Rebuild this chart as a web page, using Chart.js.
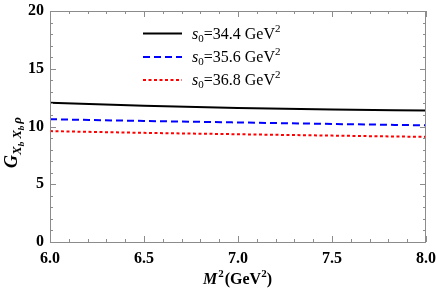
<!DOCTYPE html>
<html>
<head>
<meta charset="utf-8">
<script src="https://cdn.jsdelivr.net/npm/chart.js@4"></script>
<style>
  html, body { margin: 0; padding: 0; background: #fff; }
  #wrap { width: 436px; height: 292px; }
</style>
</head>
<body>
<div id="wrap"><canvas id="chart" width="436" height="292"></canvas></div>
<script>
// M^2 values (GeV^2)
const m2Values = [6.0, 6.5, 7.0, 7.5, 8.0];
// G values for each threshold s0
const gS344 = [12.05, 11.80, 11.60, 11.47, 11.38];
const gS356 = [10.63, 10.48, 10.35, 10.22, 10.10];
const gS368 = [9.60, 9.45, 9.33, 9.21, 9.10];
const seriesLabels = ['34.4', '35.6', '36.8'];
const xTicks = [6.0, 6.5, 7.0, 7.5, 8.0];
const yTicks = [0, 5, 10, 15, 20];

const SERIF = '"Liberation Serif", "Times New Roman", serif';
const FRAME = '#8c8c8c';

function toPoints(ys) {
  return m2Values.map((x, i) => ({ x: x, y: ys[i] }));
}

// frame, inward ticks, titles and legend
const framePlugin = {
  id: 'framePlugin',
  afterDraw(chart) {
    const ctx = chart.ctx;
    const a = chart.chartArea;
    const xs = chart.scales.x, ys = chart.scales.y;
    ctx.save();
    ctx.strokeStyle = FRAME;
    ctx.lineWidth = 1;
    ctx.strokeRect(a.left + 0.5, a.top + 0.5, a.right - a.left - 1, a.bottom - a.top);

    // x ticks (minor every 0.1)
    for (let i = 0; i <= 20; i++) {
      const v = 6 + i * 0.1;
      const px = Math.round(xs.getPixelForValue(v)) + 0.5;
      const len = (i % 5 === 0) ? 6 : 3;
      ctx.beginPath();
      ctx.moveTo(px, a.bottom); ctx.lineTo(px, a.bottom - len);
      ctx.moveTo(px, a.top); ctx.lineTo(px, a.top + len);
      ctx.stroke();
    }
    // y ticks (minor every 1)
    for (let v = 0; v <= 20; v++) {
      const py = Math.round(ys.getPixelForValue(v)) + 0.5;
      const len = (v % 5 === 0) ? 6 : 3;
      ctx.beginPath();
      ctx.moveTo(a.left, py); ctx.lineTo(a.left + len, py);
      ctx.moveTo(a.right, py); ctx.lineTo(a.right - len, py);
      ctx.stroke();
    }

    // x title: M^2(GeV^2)
    ctx.fillStyle = '#000';
    ctx.textBaseline = 'alphabetic';
    const tx = 203, ty = 284;
    ctx.font = 'italic bold 16px ' + SERIF;
    ctx.fillText('M', tx, ty);
    let w = ctx.measureText('M').width;
    ctx.font = 'bold 11px ' + SERIF;
    ctx.fillText('2', tx + w + 1, ty - 7);
    w += ctx.measureText('2').width + 2;
    ctx.font = 'bold 16px ' + SERIF;
    ctx.fillText('(GeV', tx + w, ty);
    w += ctx.measureText('(GeV').width;
    ctx.font = 'bold 11px ' + SERIF;
    ctx.fillText('2', tx + w, ty - 7);
    w += ctx.measureText('2').width;
    ctx.font = 'bold 16px ' + SERIF;
    ctx.fillText(')', tx + w, ty);

    // y title: G_{X_b X_b rho}
    ctx.save();
    ctx.translate(17, 168);
    ctx.rotate(-Math.PI / 2);
    ctx.font = 'italic bold 18px ' + SERIF;
    ctx.fillText('G', 0, 0);
    let p = ctx.measureText('G').width;
    const sub = (txt, size, dy) => {
      ctx.font = 'italic bold ' + size + 'px ' + SERIF;
      ctx.fillText(txt, p, dy);
      p += ctx.measureText(txt).width;
    };
    sub('X', 13, 4);
    sub('b', 9, 7);
    p += 3;
    sub('X', 13, 4);
    sub('b', 9, 7);
    p += 2;
    sub('ρ', 13, 4);
    ctx.restore();

    // legend
    const items = [
      { color: '#000', dash: [] },
      { color: '#0000ff', dash: [7, 4] },
      { color: '#ff0000', dash: [3, 2.5] }
    ];
    const rows = [33.5, 57, 80];
    items.forEach((it, i) => {
      ctx.strokeStyle = it.color;
      ctx.lineWidth = 2;
      ctx.setLineDash(it.dash);
      ctx.beginPath();
      ctx.moveTo(143, rows[i]); ctx.lineTo(182, rows[i]);
      ctx.stroke();
      ctx.setLineDash([]);
      const by = rows[i] + 5;
      let lx = 192;
      ctx.fillStyle = '#000';
      ctx.font = 'italic 16px ' + SERIF;
      ctx.fillText('s', lx, by);
      lx += ctx.measureText('s').width;
      ctx.font = '11px ' + SERIF;
      ctx.fillText('0', lx, by + 3);
      lx += ctx.measureText('0').width;
      ctx.font = '16px ' + SERIF;
      const body = '=' + seriesLabels[i] + ' GeV';
      ctx.fillText(body, lx, by);
      lx += ctx.measureText(body).width;
      ctx.font = '11px ' + SERIF;
      ctx.fillText('2', lx, by - 7);
    });
    ctx.restore();
  }
};

const lineBase = {
  borderWidth: 2,
  pointRadius: 0,
  fill: false,
  cubicInterpolationMode: 'monotone'
};

new Chart(document.getElementById('chart'), {
  type: 'line',
  data: {
    datasets: [
      Object.assign({ label: 's0=34.4', data: toPoints(gS344), borderColor: '#000000' }, lineBase),
      Object.assign({ label: 's0=35.6', data: toPoints(gS356), borderColor: '#0000ff', borderDash: [7, 4] }, lineBase),
      Object.assign({ label: 's0=36.8', data: toPoints(gS368), borderColor: '#ff0000', borderDash: [3, 2.5] }, lineBase)
    ]
  },
  options: {
    responsive: false,
    animation: false,
    layout: { padding: { top: 11, right: 10, left: 0, bottom: 0 } },
    plugins: { legend: { display: false }, tooltip: { enabled: false } },
    scales: {
      x: {
        type: 'linear',
        min: 6, max: 8,
        afterBuildTicks: (s) => { s.ticks = xTicks.map(v => ({ value: v })); },
        afterFit: (s) => { s.height = 50; s.paddingLeft = 0; s.paddingRight = 0; },
        grid: { display: false, drawTicks: false },
        border: { display: false },
        ticks: {
          padding: 7,
          color: '#000',
          maxRotation: 0,
          font: { family: SERIF, size: 16, weight: 'bold' },
          callback: (v) => Number(v).toFixed(1)
        }
      },
      y: {
        min: 0, max: 20,
        afterBuildTicks: (s) => { s.ticks = yTicks.map(v => ({ value: v })); },
        afterFit: (s) => { s.width = 50; s.paddingTop = 0; s.paddingBottom = 0; },
        grid: { display: false, drawTicks: false },
        border: { display: false },
        ticks: {
          padding: 6,
          color: '#000',
          font: { family: SERIF, size: 16, weight: 'bold' }
        }
      }
    }
  },
  plugins: [framePlugin]
});
</script>
</body>
</html>
